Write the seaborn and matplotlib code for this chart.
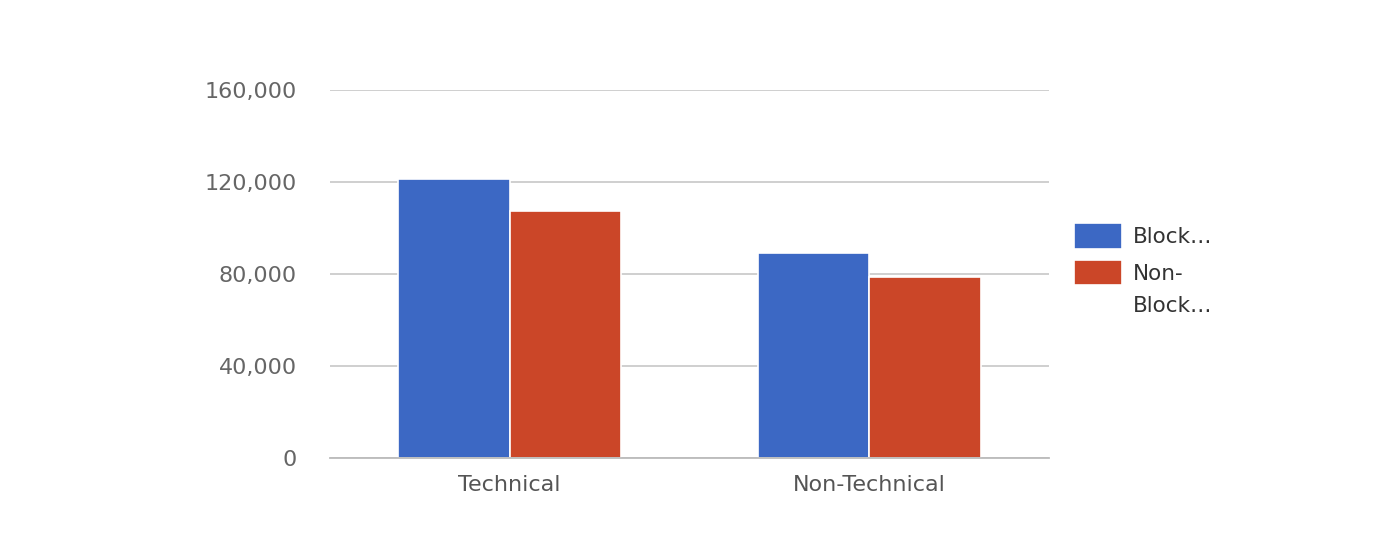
import matplotlib
matplotlib.use("Agg")
import matplotlib.pyplot as plt
import matplotlib.ticker as mticker
import seaborn as sns
import pandas as pd

categories = ["Technical", "Non-Technical"]
series_names = ["Block…", "Non-Block…"]
legend_lines = [["Block…"], ["Non-", "Block…"]]
block_values = [121200, 89000]
nonblock_values = [107300, 78600]
y_ticks = [0, 40000, 80000, 120000, 160000]

colors = ["#3c68c4", "#cb4628"]

df = pd.DataFrame({
    "category": categories * 2,
    "series": [series_names[0]] * 2 + [series_names[1]] * 2,
    "value": block_values + nonblock_values,
})

sns.set_theme(style="white")
plt.rcParams["font.family"] = ["DejaVu Sans"]

fig = plt.figure(figsize=(13.86, 5.51), dpi=100)
ax = fig.add_axes([330 / 1386, (551 - 458) / 551, (1049 - 330) / 1386, (458 - 90) / 551])

sns.barplot(data=df, x="category", y="value", hue="series", palette=colors,
            width=0.62, edgecolor="white", linewidth=1.2, saturation=1, ax=ax)

ax.set_ylim(0, 160000)
ax.set_xlim(-0.5, 1.5)
ax.set_yticks(y_ticks)
ax.yaxis.set_major_formatter(mticker.FuncFormatter(lambda v, p: f"{int(v):,}"))
ax.grid(axis="y", color="#cccccc", linewidth=1.3)
ax.set_axisbelow(True)
for s in ["top", "right", "left"]:
    ax.spines[s].set_visible(False)
ax.spines["bottom"].set_color("#bbbbbb")
ax.spines["bottom"].set_linewidth(1.3)
ax.set_xlabel("")
ax.set_ylabel("")
ax.tick_params(axis="y", length=0, pad=24, labelsize=16, labelcolor="#666666")
ax.tick_params(axis="x", length=0, pad=12, labelsize=16, labelcolor="#555555")

ax.legend_.remove()
handles, _ = ax.get_legend_handles_labels()
first_lines = [lines[0] for lines in legend_lines]
leg = fig.legend(handles, first_lines, loc="upper left",
                 bbox_to_anchor=(1055 / 1386, (551 - 204) / 551),
                 frameon=False, fontsize=15.5, handlelength=2.23, handleheight=1.45,
                 handletextpad=0.5, labelspacing=0.5, labelcolor="#333333")

fig.canvas.draw()
for txt, lines in zip(leg.get_texts(), legend_lines):
    if len(lines) > 1:
        bb = txt.get_window_extent()
        for i, extra in enumerate(lines[1:], start=1):
            fig.text(bb.x0 / fig.bbox.width, (bb.y0 - 32 * i) / fig.bbox.height, extra,
                     fontsize=15.5, color="#333333", ha="left", va="bottom")

fig.savefig("out.png", dpi=100, facecolor="white")
